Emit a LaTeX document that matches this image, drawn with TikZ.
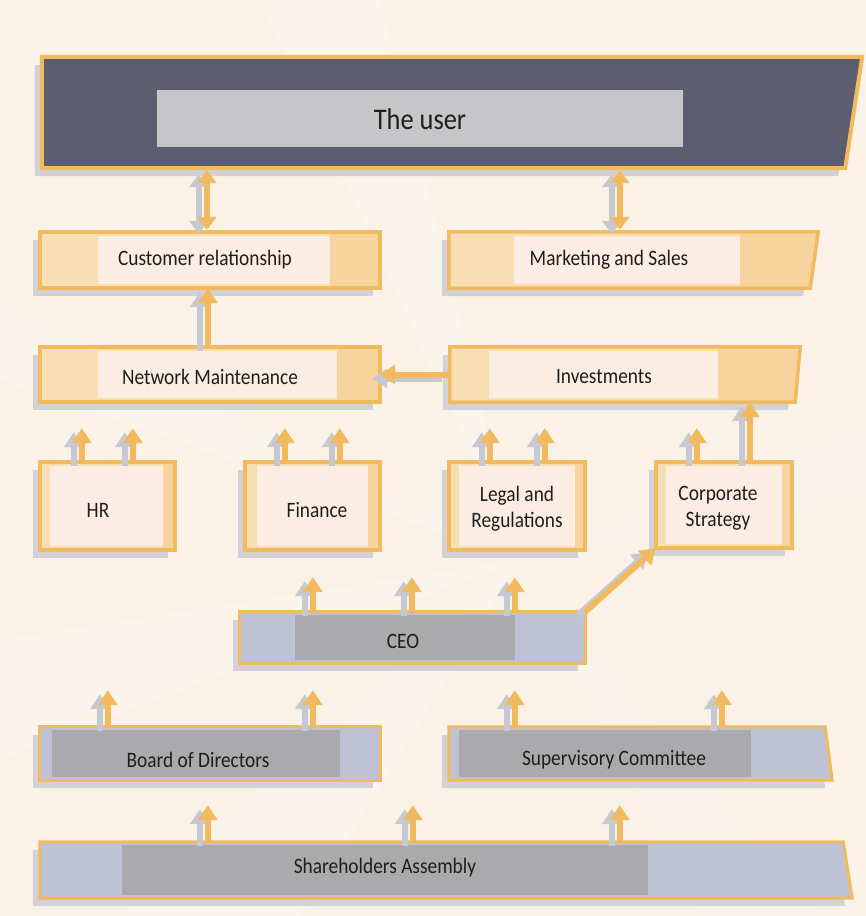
\documentclass[tikz,border=0pt]{standalone}
\usepackage{fontspec}
\setmainfont{Carlito}[FakeStretch=0.88]
\usetikzlibrary{arrows.meta,calc}
\definecolor{bgc}{HTML}{FAF2E6}
\definecolor{org}{HTML}{F2BA5E}
\definecolor{lite}{HTML}{F9DEB3}
\definecolor{pale}{HTML}{FCEDE3}
\definecolor{rdark}{HTML}{F7D39E}
\definecolor{slate}{HTML}{5C5E6F}
\definecolor{ugray}{HTML}{C6C6C8}
\definecolor{bgray}{HTML}{BFC2D4}
\definecolor{igray}{HTML}{AAAAAD}
\definecolor{shd}{HTML}{D2D2D6}
\definecolor{ashd}{HTML}{C6C9D2}
\definecolor{txt}{HTML}{1E1E1E}
\pgfdeclarelayer{back}\pgfdeclarelayer{deco}
\pgfsetlayers{back,deco,main}
% #1 name, #2 left inset, #3 right inset, #4 slant of top right corner
\newcommand\LiteBox[4]{%
  \fill[shd] ($(#1.north west)+(-7,8)$) -- ($(#1.north east)+(#4-7,8)$) -- ($(#1.south east)+(-7,8)$) -- ($(#1.south west)+(-7,8)$) -- cycle;
  \fill[lite] (#1.north west) -- ($(#1.north east)+(#4,0)$) -- (#1.south east) -- (#1.south west) -- cycle;
  \fill[rdark] ($(#1.north east)+(-#3,0)$) -- ($(#1.north east)+(#4,0)$) -- (#1.south east) -- ($(#1.south east)+(-#3,0)$) -- cycle;
  \fill[pale] ($(#1.north west)+(#2,4)$) rectangle ($(#1.south east)+(-#3,-4)$);
  \draw[org,line width=3.5pt] (#1.north west) -- ($(#1.north east)+(#4,0)$) -- (#1.south east) -- (#1.south west) -- cycle;}
\newcommand\GrayBox[4]{%
  \fill[shd] ($(#1.north west)+(-7,8)$) -- ($(#1.north east)+(#4-7,8)$) -- ($(#1.south east)+(-7,8)$) -- ($(#1.south west)+(-7,8)$) -- cycle;
  \fill[bgray] (#1.north west) -- ($(#1.north east)+(#4,0)$) -- (#1.south east) -- (#1.south west) -- cycle;
  \fill[igray] ($(#1.north west)+(#2,3)$) rectangle ($(#1.south east)+(-#3,-3)$);
  \draw[org,line width=3pt] (#1.north west) -- ($(#1.north east)+(#4,0)$) -- (#1.south east) -- (#1.south west) -- cycle;}
\newcommand\FlowArr[3][]{\draw[arrsh,#1] #2 -- #3; \draw[arr,#1] #2 -- #3;}
\begin{document}
\begin{tikzpicture}[x=1pt,y=-1pt,
  frame/.style={rectangle,inner sep=0pt,draw=none},
  lbl/.style={font=\fontsize{22}{26}\selectfont,text=txt,align=center,inner sep=1pt},
  arr/.style={draw=org,line width=6pt,-{Triangle[width=19pt,length=15pt]}},
  arrsh/.style={draw=ashd,line width=6pt,-{Triangle[width=19pt,length=15pt]},transform canvas={xshift=-8pt,yshift=-4pt}},
  dbl/.style={{Triangle[width=19pt,length=13pt]}-{Triangle[width=19pt,length=13pt]}}]
\useasboundingbox (0,0) rectangle (866,916);
\begin{pgfonlayer}{back}
  \fill[bgc] (0,0) rectangle (866,916);
  \fill[white,opacity=0.22] (520,560) -- (0,640) -- (0,760) -- cycle;
  \fill[white,opacity=0.22] (520,560) -- (120,916) -- (300,916) -- cycle;
  \fill[white,opacity=0.18] (520,560) -- (0,300) -- (0,380) -- cycle;
  \fill[white,opacity=0.18] (520,560) -- (260,0) -- (380,0) -- cycle;
  \fill[white,opacity=0.15] (520,560) -- (866,420) -- (866,500) -- cycle;
  \fill[white,opacity=0.15] (520,560) -- (700,916) -- (820,916) -- cycle;
\end{pgfonlayer}

% boxes
\node[frame,minimum width=803pt,minimum height=111pt] (user) at (443.5,112.5) {};
\node[frame,minimum width=340pt,minimum height=56pt] (cr) at (210,260) {};
\node[frame,minimum width=361pt,minimum height=56pt] (ms) at (629.5,260) {};
\node[frame,minimum width=340pt,minimum height=55pt] (nm) at (210,374.5) {};
\node[frame,minimum width=345pt,minimum height=55pt] (inv) at (622.5,374.5) {};
\node[frame,minimum width=135pt,minimum height=88pt] (hr) at (107.5,506) {};
\node[frame,minimum width=135pt,minimum height=88pt] (fin) at (312.5,506) {};
\node[frame,minimum width=136pt,minimum height=88pt] (leg) at (517,506) {};
\node[frame,minimum width=136pt,minimum height=86pt] (cs) at (724,505) {};
\node[frame,minimum width=345pt,minimum height=51pt] (ceo) at (412.5,637.5) {};
\node[frame,minimum width=340pt,minimum height=53pt] (bod) at (210,753.5) {};
\node[frame,minimum width=383pt,minimum height=53pt] (sc) at (640.5,753.5) {};
\node[frame,minimum width=812pt,minimum height=56pt] (sa) at (446,870) {};

\begin{pgfonlayer}{deco}
  \fill[shd] ($(user.north west)+(-7,8)$) -- ($(user.north east)+(10,8)$) -- ($(user.south east)+(-7,8)$) -- ($(user.south west)+(-7,8)$) -- cycle;
  \fill[slate] (user.north west) -- ($(user.north east)+(17,0)$) -- (user.south east) -- (user.south west) -- cycle;
  \fill[ugray] (157,90) rectangle (683,147);
  \draw[org,line width=4pt] (user.north west) -- ($(user.north east)+(17,0)$) -- (user.south east) -- (user.south west) -- cycle;
  \LiteBox{cr}{58}{50}{0}
  \LiteBox{ms}{65}{70}{8}
  \LiteBox{nm}{58}{43}{0}
  \LiteBox{inv}{39}{77}{5}
  \LiteBox{hr}{10}{12}{0}
  \LiteBox{fin}{12}{12}{0}
  \LiteBox{leg}{10}{10}{0}
  \LiteBox{cs}{10}{10}{0}
  \GrayBox{ceo}{55}{70}{0}
  \GrayBox{bod}{12}{40}{0}
  \GrayBox{sc}{10}{81}{-7}
  \GrayBox{sa}{82}{204}{-9}
\end{pgfonlayer}

% texts
\node[lbl,font=\fontsize{30}{34}\selectfont] (user-t) at (420,119) {The user};
\node[lbl] (cr-t) at (205,260) {Customer relationship};
\node[lbl] (ms-t) at (609,260) {Marketing and Sales};
\node[lbl] (nm-t) at (210,377) {Network Maintenance};
\node[lbl] (inv-t) at (604,377) {Investments};
\node[lbl] (hr-t) at (98,510) {HR};
\node[lbl] (fin-t) at (317,510) {Finance};
\node[lbl] (leg-t) at (517,509) {Legal and\\Regulations};
\node[lbl] (cs-t) at (718,508) {Corporate\\Strategy};
\node[lbl] (ceo-t) at (403,641) {CEO};
\node[lbl] (bod-t) at (198,760) {Board of Directors};
\node[lbl] (sc-t) at (614,760) {Supervisory Committee};
\node[lbl] (sa-t) at (385,868) {Shareholders Assembly};

% anchor points of the connectors
\coordinate (u1) at ($(cr.north west)+(167,0)$);
\coordinate (m1) at ($(ms.north west)+(171,0)$);
\coordinate (n1) at ($(nm.north west)+(168,0)$);
\coordinate (h1) at ($(hr.north west)+(42,0)$);
\coordinate (h2) at ($(hr.north west)+(93,0)$);
\coordinate (f1) at ($(fin.north west)+(40,0)$);
\coordinate (f2) at ($(fin.north west)+(95,0)$);
\coordinate (l1) at ($(leg.north west)+(41,0)$);
\coordinate (l2) at ($(leg.north west)+(96,0)$);
\coordinate (c1) at ($(cs.north west)+(41,0)$);
\coordinate (c2) at ($(cs.north west)+(94,0)$);
\coordinate (e1) at ($(ceo.north west)+(73,0)$);
\coordinate (e2) at ($(ceo.north west)+(172,0)$);
\coordinate (e3) at ($(ceo.north west)+(275,0)$);
\coordinate (b1) at ($(bod.north west)+(68,0)$);
\coordinate (b2) at ($(bod.north west)+(273,0)$);
\coordinate (s1) at ($(sc.north west)+(66,0)$);
\coordinate (s2) at ($(sc.north west)+(273,0)$);
\coordinate (a1) at ($(sa.north west)+(168,0)$);
\coordinate (a2) at ($(sa.north west)+(373,0)$);
\coordinate (a3) at ($(sa.north west)+(580,0)$);

% connectors
\FlowArr[dbl,shorten >=2pt,shorten <=2pt]{(u1)}{(u1 |- user.south)}
\FlowArr[dbl,shorten >=2pt,shorten <=2pt]{(m1)}{(m1 |- user.south)}
\FlowArr{(n1)}{(n1 |- cr.south)}
\FlowArr{(inv.west)}{(nm.east)}
\FlowArr[shorten >=26pt]{(h1)}{(h1 |- nm.south)}
\FlowArr[shorten >=26pt]{(h2)}{(h2 |- nm.south)}
\FlowArr[shorten >=26pt]{(f1)}{(f1 |- nm.south)}
\FlowArr[shorten >=26pt]{(f2)}{(f2 |- nm.south)}
\FlowArr[shorten >=26pt]{(l1)}{(l1 |- inv.south)}
\FlowArr[shorten >=26pt]{(l2)}{(l2 |- inv.south)}
\FlowArr[shorten >=26pt]{(c1)}{(c1 |- inv.south)}
\FlowArr{(c2)}{(c2 |- inv.south)}
\FlowArr[shorten >=27pt]{(e1)}{(e1 |- fin.south)}
\FlowArr[shorten >=27pt]{(e2)}{(e2 |- fin.south)}
\FlowArr[shorten >=27pt]{(e3)}{(e3 |- leg.south)}
\FlowArr{(ceo.north east)}{(cs.south west)}
\FlowArr[shorten >=27pt]{(b1)}{(b1 |- ceo.south)}
\FlowArr[shorten >=27pt]{(b2)}{(b2 |- ceo.south)}
\FlowArr[shorten >=27pt]{(s1)}{(s1 |- ceo.south)}
\FlowArr[shorten >=27pt]{(s2)}{(s2 |- ceo.south)}
\FlowArr[shorten >=25pt]{(a1)}{(a1 |- bod.south)}
\FlowArr[shorten >=25pt]{(a2)}{(a2 |- bod.south)}
\FlowArr[shorten >=25pt]{(a3)}{(a3 |- bod.south)}
\end{tikzpicture}
\end{document}
